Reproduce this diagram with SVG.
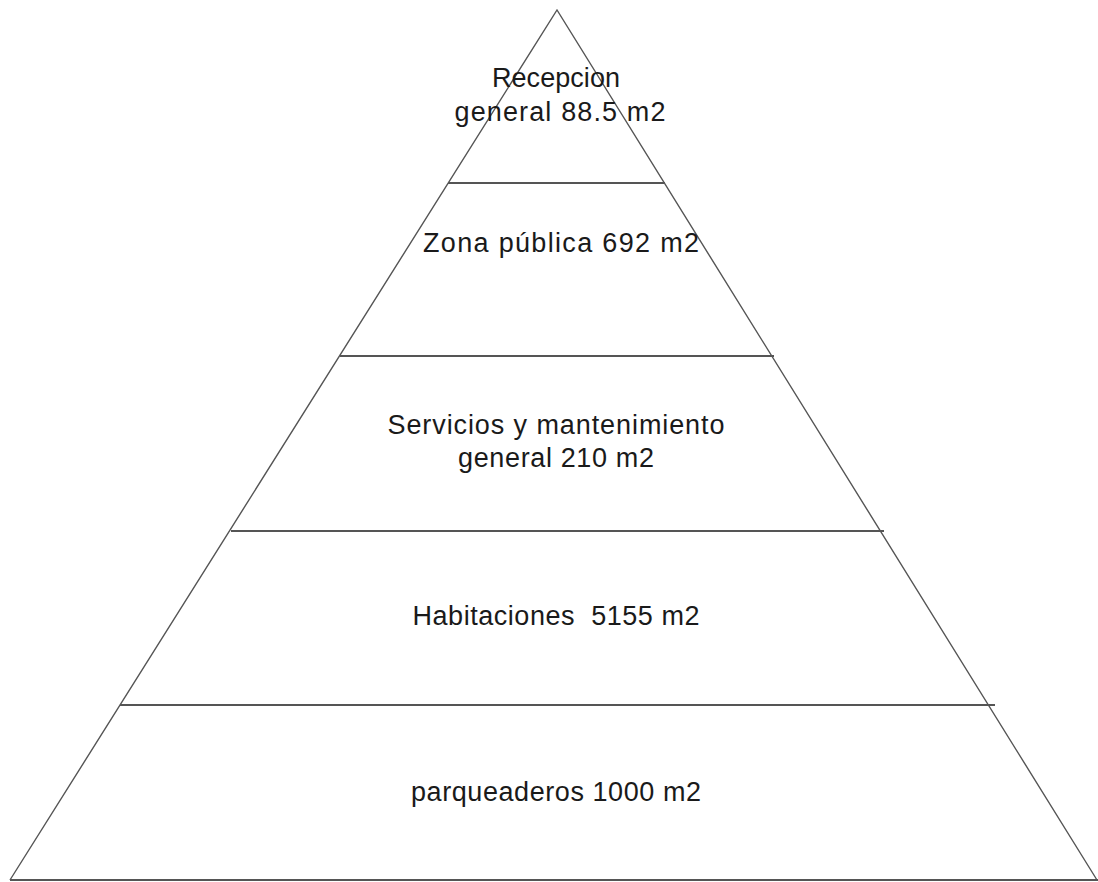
<svg xmlns="http://www.w3.org/2000/svg" width="1098" height="882" viewBox="0 0 1098 882">
<style>
.t{font-family:"Liberation Sans",Arial,sans-serif;font-size:27px;fill:#1a1a1a;text-anchor:middle}
.s{stroke:#555555;stroke-width:1.4;fill:none}
.h{stroke:#555555;stroke-width:2;fill:none}
</style>
<rect width="1098" height="882" fill="#ffffff"/>
<g id="pyramid">
<polyline class="s" points="10,880 557,10 1097,880"/>
<line class="h" x1="10" y1="880" x2="1098" y2="880"/>
</g>
<g id="connectors">
<line class="h" x1="448" y1="183" x2="665" y2="183"/>
<line class="h" x1="340" y1="356" x2="774" y2="356"/>
<line class="h" x1="231" y1="531" x2="884" y2="531"/>
<line class="h" x1="120" y1="705" x2="995" y2="705"/>
</g>
<g id="recepcion"><text class="t" x="556" y="87" textLength="128">Recepcion</text><text class="t" x="560" y="121" textLength="211">general 88.5 m2</text></g>
<g id="zona"><text class="t" x="561" y="252" textLength="276">Zona pública 692 m2</text></g>
<g id="servicios"><text class="t" x="556" y="434" textLength="337">Servicios y mantenimiento</text><text class="t" x="556" y="467" textLength="196">general 210 m2</text></g>
<g id="habitaciones"><text class="t" x="556" y="625" textLength="287" xml:space="preserve">Habitaciones  5155 m2</text></g>
<g id="parqueaderos"><text class="t" x="556" y="801" textLength="290">parqueaderos 1000 m2</text></g>
</svg>
